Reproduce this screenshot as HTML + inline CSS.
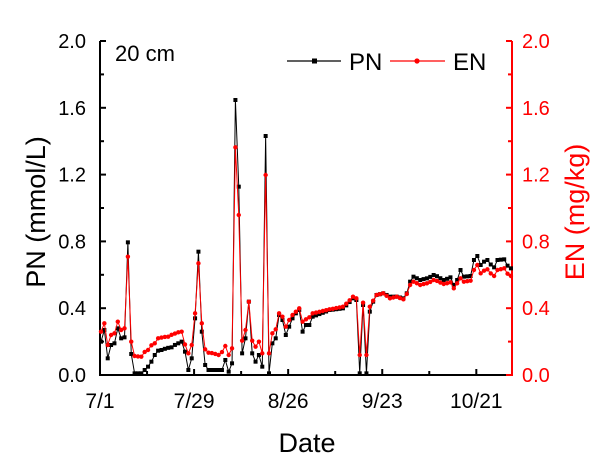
<!DOCTYPE html><html><head><style>body{margin:0;background:#fff}svg{display:block;font-family:"Liberation Sans",Arial,sans-serif}</style></head><body>
<svg id="s" width="606" height="465" viewBox="0 0 606 465"></svg>
<script>
const S=document.getElementById('s');let h='';
const L=100,R=512,T=41,B=375;
const yv=v=>B-v*(B-T)/2;
h+=`<line x1="${L}" y1="${T}" x2="${L}" y2="${B}" stroke="#000" stroke-width="2"/>`;
h+=`<line x1="${L-1}" y1="${B}" x2="${R}" y2="${B}" stroke="#000" stroke-width="2"/>`;
h+=`<line x1="${R}" y1="${T}" x2="${R}" y2="${B+1}" stroke="red" stroke-width="2"/>`;
for(let i=0;i<=10;i++){const y=yv(i*0.2),mj=i%2==0,l=mj?6:4;
h+=`<line x1="${L}" y1="${y}" x2="${L+l}" y2="${y}" stroke="#000" stroke-width="2"/>`;
h+=`<line x1="${R}" y1="${y}" x2="${R-l}" y2="${y}" stroke="red" stroke-width="2"/>`;
if(mj){const t=(i*0.2).toFixed(1);
h+=`<text x="${L-14}" y="${y+7}" font-size="20" text-anchor="end">${t}</text>`;
h+=`<text x="${R+10}" y="${y+7}" font-size="20" fill="red">${t}</text>`;}}
const dx=3.36;
for(let d=0;d<=122;d+=14){const x=L+d*dx,mj=(d%28==0);
h+=`<line x1="${x}" y1="${B}" x2="${x}" y2="${B-(mj?6:4)}" stroke="#000" stroke-width="2"/>`;}
['7/1','7/29','8/26','9/23','10/21'].forEach((t,i)=>{h+=`<text x="${L+i*28*dx}" y="408" font-size="21" text-anchor="middle">${t}</text>`});
h+=`<text x="307" y="452" font-size="27" text-anchor="middle">Date</text>`;
h+=`<text transform="translate(45,212) rotate(-90)" font-size="27" text-anchor="middle">PN (mmol/L)</text>`;
h+=`<text transform="translate(584,212) rotate(-90)" font-size="27" text-anchor="middle" fill="red">EN (mg/kg)</text>`;
h+=`<text x="115" y="61" font-size="22">20 cm</text>`;
h+=`<line x1="287" y1="61" x2="341" y2="61" stroke="#000" stroke-width="1.2"/><rect x="312" y="58.5" width="5" height="5"/>`;
h+=`<text x="349" y="70" font-size="24">PN</text>`;
h+=`<line x1="390" y1="61" x2="445" y2="61" stroke="red" stroke-width="1.2"/><circle cx="417" cy="61" r="2.6" fill="red"/>`;
h+=`<text x="453" y="70" font-size="24">EN</text>`;
const PN=[[33,935],[40,900],[50,985],[60,945],[72,940],[82,895],[92,925],[102,922],[112,637],[122,972],[132,1030],[155,1030],[160,1020],[170,1010],[180,995],[192,975],[202,962],[212,960],[240,952],[275,935],[285,965],[295,1020],[305,985],[315,865],[325,665],[335,905],[345,1005],[355,1020],[395,1020],[408,990],[418,1025],[428,1000],[437,210],[447,470],[457,970],[467,925],[478,815],[488,970],[498,995],[508,975],[518,1010],[528,318],[538,1030],[548,940],[558,925],[568,855],[578,870],[588,915],[598,890],[608,865],[618,850],[628,840],[638,905],[648,885],[658,885],[668,860],[720,840],[760,835],[790,805],[800,810],[812,1030],[822,825],[832,1030],[842,845],[852,815],[860,795],[880,790],[900,800],[920,800],[940,805],[950,790],[962,755],[972,740],[990,750],[1010,745],[1035,735],[1060,750],[1085,742],[1095,765],[1105,750],[1115,720],[1125,740],[1140,738],[1148,690],[1158,678],[1168,705],[1180,695],[1190,690],[1210,712],[1225,690],[1240,688],[1258,715]];
const EN=[[33,905],[40,880],[50,945],[60,915],[72,910],[82,875],[92,900],[102,895],[112,680],[122,935],[132,978],[150,980],[170,960],[190,940],[200,925],[230,920],[270,905],[280,930],[295,970],[305,945],[315,850],[325,700],[335,880],[345,958],[360,968],[390,975],[408,948],[418,975],[428,955],[437,352],[447,555],[457,932],[467,900],[478,815],[488,932],[498,950],[508,935],[518,970],[528,435],[538,970],[548,910],[558,898],[568,850],[578,860],[588,890],[598,870],[608,855],[618,845],[628,835],[638,875],[648,868],[658,862],[668,850],[720,838],[760,830],[790,800],[800,805],[812,975],[822,818],[832,975],[842,830],[852,812],[860,795],[880,790],[900,805],[920,800],[940,808],[950,792],[962,765],[972,755],[990,765],[1010,760],[1035,750],[1060,762],[1085,757],[1095,775],[1105,760],[1115,745],[1125,755],[1140,752],[1148,720],[1158,705],[1168,730],[1180,722],[1190,718],[1210,738],[1225,720],[1240,715],[1258,738]];
function interp(k,zx){for(let i=0;i<k.length-1;i++){if(zx>=k[i][0]&&zx<=k[i+1][0]){const f=(zx-k[i][0])/(k[i+1][0]-k[i][0]||1);return k[i][1]+f*(k[i+1][1]-k[i][1]);}}return zx<k[0][0]?k[0][1]:k[k.length-1][1];}
function series(k,col,sq){let pts=[];for(let d=0;d<=122;d++){const zx=33+d*10.08;let zy=interp(k,zx);
for(const p of k){if(Math.abs(p[0]-zx)<5){zy=p[1];}}
pts.push([90+zx/3,30+zy/3]);}
let s=`<polyline fill="none" stroke="${col}" stroke-width="1" points="${pts.map(p=>p.join(',')).join(' ')}"/>`;
for(const p of pts){s+=sq?`<rect x="${p[0]-2}" y="${p[1]-2}" width="4" height="4" fill="${col}"/>`:`<circle cx="${p[0]}" cy="${p[1]}" r="2.2" fill="${col}"/>`;}
return s;}
h+=series(PN,'#000',true);h+=series(EN,'red',false);
S.innerHTML=h;
</script></body></html>
